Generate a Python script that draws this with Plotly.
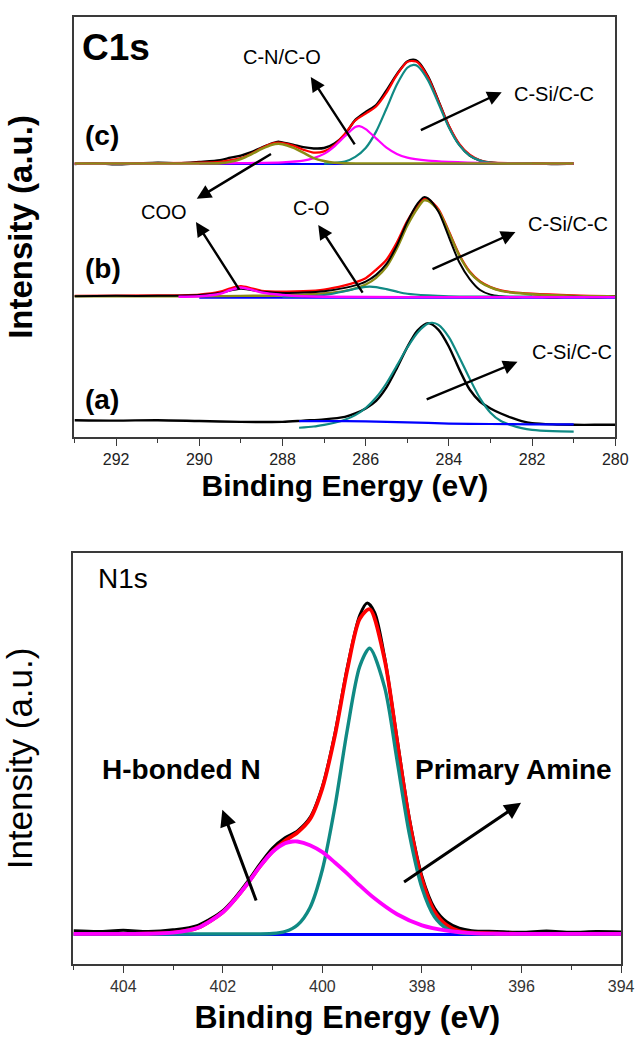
import plotly.graph_objects as go

# ---------------- C1s panel data (binding energy eV, intensity a.u.) ----------------
# (c)
c_exp_x = [293, 292.5, 292, 291.5, 291, 290.5, 290, 289.5, 289.25, 289, 288.75, 288.5, 288.25, 288.1, 288,
           287.75, 287.5, 287.25, 287, 286.75, 286.5, 286.25, 286, 285.75, 285.5, 285.25, 285, 284.85, 284.75,
           284.5, 284.25, 284, 283.75, 283.5, 283.25, 283, 282.5, 282, 281.5, 281]
c_exp_y = [65.0, 65.2, 64.9, 65.1, 65.3, 65.2, 65.5, 65.9, 66.5, 67.0, 67.8, 68.9, 69.9, 70.3, 70.1,
           69.6, 69.0, 68.7, 68.8, 69.9, 72.0, 75.5, 77.4, 79.0, 82.5, 86.4, 89.4, 89.8, 89.4,
           85.8, 80.0, 74.0, 69.6, 67.0, 65.8, 65.3, 65.1, 65.2, 65.0, 65.1]
c_env_x = [293, 291, 290, 289.5, 289.25, 289, 288.75, 288.5, 288.25, 288.1, 288, 287.75, 287.5, 287.25, 287,
           286.75, 286.5, 286.25, 286, 285.75, 285.5, 285.25, 285, 284.85, 284.75, 284.5, 284.25, 284, 283.75,
           283.5, 283.25, 283, 282.5, 282, 281]
c_env_y = [65.1, 65.2, 65.3, 65.5, 65.9, 66.4, 67.45, 68.8, 69.85, 70.1, 70.0, 69.4, 68.4, 67.7, 68.0,
           69.5, 72.2, 75.35, 77.0, 78.7, 82.0, 86.2, 89.3, 89.5, 89.2, 85.6, 79.9, 74.1, 69.8,
           67.2, 65.9, 65.4, 65.2, 65.15, 65.1]
c_csi_x = [287, 286.5, 286.25, 286, 285.75, 285.5, 285.25, 285, 284.85, 284.75, 284.5, 284.25, 284, 283.75,
           283.5, 283.25, 283, 282.5, 282]
c_csi_y = [65.1, 65.6, 66.7, 68.8, 72.7, 78.2, 83.9, 87.9, 88.6, 88.3, 84.9, 79.4, 73.7, 69.5,
           67.0, 65.8, 65.3, 65.1, 65.1]
c_cn_x = [293, 290, 289, 288, 287.5, 287.25, 287, 286.75, 286.5, 286.25, 286.15, 286, 285.75, 285.5, 285.25,
          285, 284.5, 284, 283, 282, 281]
c_cn_y = [65.1, 65.1, 65.2, 65.4, 65.8, 66.4, 67.4, 69.2, 71.6, 73.8, 74.0, 73.3, 71.1, 68.9, 67.4,
          66.5, 65.8, 65.5, 65.2, 65.1, 65.1]
c_coo_x = [293, 290, 289.5, 289.25, 289, 288.75, 288.5, 288.25, 288.1, 288, 287.75, 287.5, 287.25, 287,
           286.75, 286.5, 286, 284, 282, 281]
c_coo_y = [65.1, 65.1, 65.2, 65.55, 66.2, 67.3, 68.6, 69.6, 69.8, 69.7, 68.9, 67.7, 66.4, 65.7,
           65.3, 65.15, 65.1, 65.1, 65.1, 65.1]
c_bg_x = [290, 281]
c_bg_y = [65.0, 65.0]

# (b)
b_exp_x = [293, 292, 291, 290, 289.5, 289, 288.5, 288, 287.5, 287, 286.5, 286.25, 286, 285.75, 285.5, 285.25,
           285, 284.75, 284.6, 284.5, 284.25, 284, 283.75, 283.5, 283.25, 283, 282.75, 282.5, 282, 281.5,
           281, 280.5, 280]
b_exp_y = [33.5, 33.6, 33.6, 33.8, 34.3, 35.3, 34.6, 34.3, 34.4, 34.7, 35.5, 36.1, 37.0, 38.6, 41.2, 45.6,
           51.2, 55.6, 57.1, 56.8, 53.6, 47.6, 41.6, 37.6, 35.0, 33.9, 33.5, 33.3, 33.4, 33.3,
           33.4, 33.3, 33.4]
b_env_x = [293, 291, 290, 289.5, 289.25, 289, 288.75, 288.5, 288, 287.5, 287, 286.5, 286.25, 286, 285.75,
           285.5, 285.25, 285, 284.75, 284.6, 284.5, 284.25, 284, 283.75, 283.5, 283.25, 283, 282.75, 282.5,
           282, 281, 280]
b_env_y = [33.6, 33.7, 33.9, 34.6, 35.4, 35.9, 35.4, 34.8, 34.6, 34.7, 35.1, 36.1, 36.8, 37.8, 39.8,
           42.2, 46.3, 51.4, 55.2, 56.7, 56.6, 54.2, 48.9, 43.4, 39.4, 37.0, 35.7, 34.9, 34.5,
           34.1, 33.7, 33.5]
b_csi_x = [293, 291, 290, 289, 288, 287.5, 287, 286.5, 286.25, 286, 285.75, 285.5, 285.25, 285, 284.75,
           284.6, 284.5, 284.25, 284, 283.75, 283.5, 283.25, 283, 282.75, 282.5, 282, 281, 280]
b_csi_y = [33.5, 33.5, 33.5, 33.6, 33.7, 33.9, 34.2, 34.8, 35.4, 36.3, 37.9, 40.5, 44.9, 50.3, 54.5,
           56.3, 56.2, 53.9, 48.7, 43.2, 39.2, 36.9, 35.6, 34.8, 34.4, 34.0, 33.6, 33.5]
b_co_x = [288, 287.5, 287, 286.5, 286.25, 286, 285.9, 285.75, 285.5, 285.25, 285, 284.5, 284, 283, 282]
b_co_y = [33.4, 33.5, 33.8, 34.7, 35.3, 35.75, 35.8, 35.7, 35.2, 34.6, 34.1, 33.7, 33.5, 33.4, 33.4]
b_coo_x = [290.5, 290, 289.5, 289.25, 289, 288.75, 288.5, 288, 287.5, 287, 285, 283, 281, 280]
b_coo_y = [33.4, 33.5, 34.1, 35.0, 35.6, 35.1, 34.4, 33.8, 33.5, 33.4, 33.3, 33.3, 33.3, 33.3]
b_bg_x = [290, 280]
b_bg_y = [33.2, 33.2]

# (a)
a_exp_x = [293, 292, 291, 290, 289, 288, 287.5, 287, 286.5, 286.25, 286, 285.75, 285.5, 285.25, 285, 284.75,
           284.5, 284.25, 284, 283.75, 283.5, 283.25, 283, 282.75, 282.5, 282.25, 282, 281.5, 281, 280.5, 280]
a_exp_y = [4.0, 3.9, 4.0, 3.8, 3.6, 3.6, 3.9, 4.2, 4.8, 5.6, 6.8, 8.6, 11.8, 16.4, 21.4, 25.4,
           27.1, 25.5, 21.5, 16.1, 11.3, 8.4, 6.8, 5.6, 4.6, 3.8, 3.3, 3.0, 2.9, 2.9, 2.9]
a_csi_x = [287.6, 287.25, 287, 286.75, 286.5, 286.25, 286, 285.75, 285.5, 285.25, 285, 284.75, 284.5, 284.4,
           284.25, 284, 283.75, 283.5, 283.25, 283, 282.75, 282.5, 282.25, 282, 281.5, 281]
a_csi_y = [2.2, 2.5, 2.9, 3.4, 4.1, 5.2, 6.9, 9.4, 12.8, 17.0, 21.3, 24.9, 27.0, 27.2,
           26.7, 23.8, 19.0, 13.9, 9.2, 5.8, 3.8, 2.8, 2.1, 1.7, 1.4, 1.3]
a_bg_x = [287.6, 287, 286, 285, 284, 283, 282, 281]
a_bg_y = [3.8, 3.8, 3.7, 3.5, 3.2, 3.1, 3.0, 3.0]

c1s_ticks = [292, 290, 288, 286, 284, 282, 280]

# ---------------- N1s panel data ----------------
n_exp_x = [405, 404.5, 404, 403.5, 403, 402.5, 402, 401.75, 401.5, 401.25, 401, 400.75, 400.5, 400.25, 400,
           399.75, 399.5, 399.25, 399.1, 398.95, 398.75, 398.5, 398.25, 398, 397.75, 397.5, 397.25, 397,
           396.5, 396, 395.5, 395, 394.5, 394]
n_exp_y = [8.1, 7.9, 8.2, 7.9, 8.3, 9.4, 13.0, 16.2, 20.1, 24.4, 28.2, 30.7, 32.4, 35.6, 43.2,
           56.0, 72.2, 84.8, 87.8, 85.5, 74.6, 54.8, 35.2, 21.3, 13.6, 10.2, 8.7, 8.1,
           7.9, 7.7, 8.0, 7.7, 7.9, 7.8]
n_env_x = [405, 404, 403.5, 403, 402.5, 402, 401.75, 401.5, 401.25, 401, 400.75, 400.5, 400.25, 400, 399.75,
           399.5, 399.25, 399.05, 398.75, 398.5, 398.25, 398, 397.75, 397.5, 397.25, 397, 396.5, 396, 394]
n_env_y = [7.3, 7.3, 7.35, 7.6, 8.8, 12.6, 15.8, 19.6, 23.8, 27.4, 30.0, 32.0, 35.2, 42.8, 55.5,
           71.6, 84.0, 86.3, 74.0, 54.2, 34.6, 20.6, 12.8, 9.4, 8.0, 7.6, 7.4, 7.3, 7.3]
n_pa_x = [405, 403, 402, 401, 400.75, 400.5, 400.25, 400, 399.75, 399.5, 399.25, 399.05, 398.75, 398.5,
          398.25, 398, 397.75, 397.5, 397.25, 397, 396, 394]
n_pa_y = [7.3, 7.3, 7.3, 7.4, 7.9, 9.5, 13.7, 23.0, 38.2, 57.0, 72.4, 76.8, 67.3, 49.5,
          31.4, 18.5, 11.5, 8.6, 7.6, 7.4, 7.3, 7.3]
n_hb_x = [405, 404, 403.5, 403, 402.5, 402, 401.75, 401.5, 401.25, 401, 400.75, 400.6, 400.5, 400.25, 400,
          399.75, 399.5, 399.25, 399, 398.5, 398, 397.5, 397, 396.5, 396, 395, 394]
n_hb_y = [7.3, 7.3, 7.35, 7.6, 8.8, 12.6, 15.8, 19.6, 23.8, 27.3, 29.4, 29.8, 29.8, 28.9, 27.2,
          24.7, 22.0, 19.1, 16.4, 12.1, 9.4, 8.1, 7.5, 7.35, 7.3, 7.3, 7.3]
n_bg_x = [405, 394]
n_bg_y = [7.2, 7.2]

n1s_ticks = [404, 402, 400, 398, 396, 394]

FONT = "Liberation Sans, Arial, sans-serif"
BLACK = "#000000"
RED = "#ff0000"
TEAL = "#108a84"
MAGENTA = "#ff00ff"
OLIVE = "#8c8c14"
BLUE = "#0000ff"

fig = go.Figure()


def add(x, y, color, width, xa="x", ya="y"):
    fig.add_trace(go.Scatter(x=x, y=y, mode="lines", xaxis=xa, yaxis=ya,
                             line=dict(color=color, width=width, shape="spline", smoothing=0.8),
                             showlegend=False, hoverinfo="skip"))


# (a)
add(a_exp_x, a_exp_y, BLACK, 2.4)
add(a_csi_x, a_csi_y, TEAL, 2.2)
add(a_bg_x, a_bg_y, BLUE, 2.2)
# (b)
add(b_bg_x, b_bg_y, BLUE, 2.2)
add(b_env_x, b_env_y, RED, 2.4)
add(b_csi_x, b_csi_y, OLIVE, 2.4)
add(b_exp_x, b_exp_y, BLACK, 2.0)
add(b_co_x, b_co_y, TEAL, 2.2)
add(b_coo_x, b_coo_y, MAGENTA, 2.4)
# (c)
add(c_bg_x, c_bg_y, BLUE, 2.0)
add(c_exp_x, c_exp_y, BLACK, 2.4)
add(c_env_x, c_env_y, RED, 2.2)
add(c_csi_x, c_csi_y, TEAL, 2.2)
add(c_cn_x, c_cn_y, MAGENTA, 2.2)
add(c_coo_x, c_coo_y, OLIVE, 2.6)
# N1s
add(n_bg_x, n_bg_y, BLUE, 3.0, "x2", "y2")
add(n_exp_x, n_exp_y, BLACK, 3.0, "x2", "y2")
add(n_env_x, n_env_y, RED, 3.8, "x2", "y2")
add(n_pa_x, n_pa_y, TEAL, 3.4, "x2", "y2")
add(n_hb_x, n_hb_y, MAGENTA, 3.8, "x2", "y2")

annotations = []


def label(text, x, y, size, bold=False, xr="x", yr="y", xanchor="center", color="#000"):
    t = f"<b>{text}</b>" if bold else text
    annotations.append(dict(text=t, x=x, y=y, xref=xr, yref=yr, showarrow=False,
                            xanchor=xanchor, yanchor="middle",
                            font=dict(family=FONT, size=size, color=color)))


def arrow(x0, y0, x1, y1, xr="x", yr="y", width=2.4, size=1.2):
    annotations.append(dict(text="", x=x1, y=y1, ax=x0, ay=y0, xref=xr, yref=yr,
                            axref=xr, ayref=yr, showarrow=True, arrowhead=2,
                            arrowsize=size, arrowwidth=width, arrowcolor="#000", standoff=0,
                            startstandoff=0))


# C1s labels
label("C1s", 292.86, 92.7, 37, bold=True, xanchor="left")
label("(c)", 292.34, 71.8, 28, bold=True)
label("(b)", 292.32, 40.0, 28, bold=True)
label("(a)", 292.34, 9.0, 28, bold=True)
label("C-N/C-O", 288.01, 90.5, 20)
label("C-Si/C-C", 281.48, 81.7, 20)
label("COO", 290.86, 53.6, 20)
label("C-O", 287.30, 54.5, 20)
label("C-Si/C-C", 281.13, 50.7, 20)
label("C-Si/C-C", 281.04, 20.2, 20)
arrow(286.24, 69.3, 287.32, 85.7)
arrow(288.24, 67.6, 290.06, 56.7)
arrow(284.71, 72.9, 282.73, 82.1)
arrow(289.02, 34.8, 290.08, 51.2)
arrow(286.05, 34.0, 287.14, 50.5)
arrow(284.43, 39.8, 282.40, 48.8)
arrow(284.57, 8.8, 282.35, 17.9)

# N1s labels
label("N1s", 404.55, 93.7, 28, xr="x2", yr="y2", xanchor="left")
label("H-bonded N", 402.84, 47.2, 28, bold=True, xr="x2", yr="y2")
label("Primary Amine", 396.16, 47.4, 28, bold=True, xr="x2", yr="y2")
arrow(401.32, 15.1, 402.01, 37.5, "x2", "y2", width=3.0, size=1.1)
arrow(398.39, 19.7, 396.01, 39.2, "x2", "y2", width=3.0, size=1.1)

axis_common = dict(showline=True, mirror=True, linecolor="#3a3a3a", linewidth=1.5,
                   showgrid=False, zeroline=False)

fig.update_layout(
    width=642, height=1040,
    autosize=False,
    margin=dict(l=0, r=0, t=0, b=0),
    paper_bgcolor="white", plot_bgcolor="white",
    font=dict(family=FONT, color="#000"),
    annotations=annotations,
    xaxis=dict(domain=[0.1184, 0.9782], range=[293, 280], anchor="y",
               tickmode="array", tickvals=c1s_ticks, ticks="outside", ticklen=7, tickwidth=1.3,
               tickcolor="#3a3a3a",
               minor=dict(dtick=1, tick0=281, ticks="outside", ticklen=4, tickwidth=1.2, tickcolor="#3a3a3a"),
               tickfont=dict(family=FONT, size=16, color="#222"),
               title=dict(text="<b>Binding Energy (eV)</b>", font=dict(family=FONT, size=30), standoff=8),
               **axis_common),
    yaxis=dict(domain=[0.5798, 0.9837], range=[0, 100], anchor="x",
               showticklabels=False, ticks="",
               title=dict(text="<b>Intensity (a.u.)</b>", font=dict(family=FONT, size=33), standoff=30),
               **axis_common),
    xaxis2=dict(domain=[0.1168, 0.9875], range=[405, 394], anchor="y2",
                tickmode="array", tickvals=n1s_ticks, ticks="outside", ticklen=7, tickwidth=1.3,
                tickcolor="#3a3a3a",
                minor=dict(dtick=1, tick0=395, ticks="outside", ticklen=4, tickwidth=1.2, tickcolor="#3a3a3a"),
                tickfont=dict(family=FONT, size=16, color="#333"),
                title=dict(text="<b>Binding Energy (eV)</b>", font=dict(family=FONT, size=32), standoff=12),
                **axis_common),
    yaxis2=dict(domain=[0.0731, 0.4683], range=[0, 100], anchor="x2",
                showticklabels=False, ticks="",
                title=dict(text="Intensity (a.u.)", font=dict(family=FONT, size=35), standoff=28),
                **axis_common),
)

fig.write_html(
    "out.html",
    config={"responsive": False},
    post_script=("document.documentElement.style.margin='0';document.body.style.margin='0';"
                 "document.documentElement.style.overflow='hidden';document.body.style.overflow='hidden';"),
)
